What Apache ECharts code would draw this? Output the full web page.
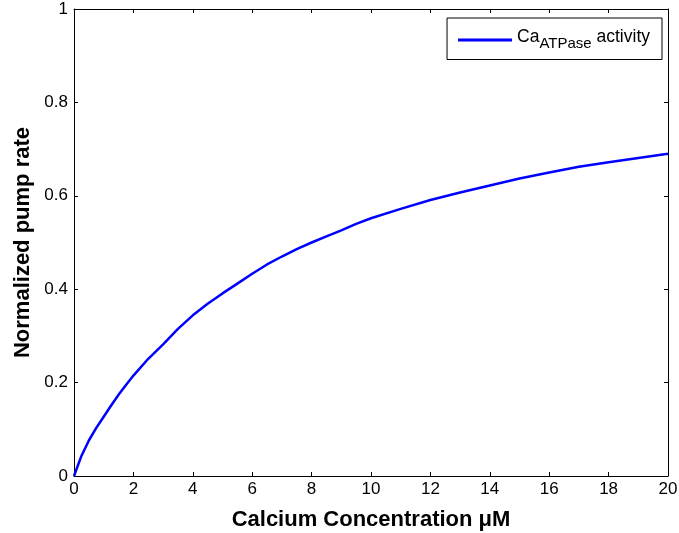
<!DOCTYPE html>
<html>
<head>
<meta charset="utf-8">
<script src="https://cdn.jsdelivr.net/npm/echarts@6/dist/echarts.min.js"></script>
<style>
  html, body { margin: 0; padding: 0; background: #fff; }
  #chart { width: 679px; height: 533px; }
</style>
</head>
<body>
<div id="chart"></div>
<script>
// calcium concentration (uM) and normalized pump rate
const calcium = [0, 0.25, 0.5, 0.75, 1, 1.25, 1.5, 1.75, 2, 2.5, 3, 3.5, 4, 4.5, 5, 5.5, 6, 6.5, 7, 7.5, 8, 8.5, 9, 9.5, 10,
  11, 12, 13, 14, 15, 16, 17, 18, 19, 20]
const pumpRate = [0, 0.043, 0.076, 0.103, 0.127, 0.151, 0.174, 0.195, 0.215, 0.251, 0.282, 0.315, 0.344, 0.369, 0.391, 0.412, 0.433, 0.453, 0.47, 0.486, 0.5, 0.513, 0.526, 0.54, 0.552,
  0.572, 0.591, 0.607, 0.622, 0.637, 0.65, 0.662, 0.672, 0.681, 0.69]
const seriesName = 'CaATPase activity'

const font = 'Liberation Sans, Arial, sans-serif'
const chart = echarts.init(document.getElementById('chart'))

// top / right axes only draw the box and the inner ticks, like the original
const frameAxis = {
  type: 'value',
  min: 0,
  axisLine: { show: true, onZero: false, lineStyle: { color: '#000', width: 1 } },
  axisTick: { show: true, inside: true, length: 4, lineStyle: { color: '#000' } },
  axisLabel: { show: false },
  splitLine: { show: false }
}

chart.setOption({
  animation: false,
  backgroundColor: '#fff',
  grid: { left: 74, right: 11, top: 9, bottom: 57, outerBoundsMode: 'none' },
  legend: {
    right: 17,
    top: 18,
    padding: [10, 12, 8, 11],
    borderColor: '#000',
    borderWidth: 1,
    itemWidth: 54,
    itemHeight: 3,
    icon: 'rect',
    data: [seriesName],
    formatter: () => '{n|Ca}{s|ATPase}{n| activity}',
    textStyle: {
      rich: {
        n: { fontFamily: font, fontSize: 17.5, color: '#000', padding: [0, 0, 6, 0] },
        s: { fontFamily: font, fontSize: 15, color: '#000', padding: [8, 0, 0, 0] }
      }
    }
  },
  xAxis: [
    {
      type: 'value',
      min: 0,
      max: 20,
      interval: 2,
      name: 'Calcium Concentration \u03bcM',
      nameLocation: 'middle',
      nameGap: 33,
      nameTextStyle: { fontFamily: font, fontSize: 22, fontWeight: 'bold', color: '#000' },
      axisLine: { show: true, onZero: false, lineStyle: { color: '#000', width: 1 } },
      axisTick: { show: true, inside: true, length: 4, lineStyle: { color: '#000' } },
      axisLabel: { fontFamily: font, fontSize: 17, color: '#000', margin: 5 },
      splitLine: { show: false }
    },
    Object.assign({}, frameAxis, { position: 'top', max: 20, interval: 2 })
  ],
  yAxis: [
    {
      type: 'value',
      min: 0,
      max: 1,
      interval: 0.2,
      name: 'Normalized pump rate',
      nameLocation: 'middle',
      nameGap: 36,
      nameTextStyle: { fontFamily: font, fontSize: 22, fontWeight: 'bold', color: '#000' },
      axisLine: { show: true, onZero: false, lineStyle: { color: '#000', width: 1 } },
      axisTick: { show: true, inside: true, length: 4, lineStyle: { color: '#000' } },
      axisLabel: { fontFamily: font, fontSize: 17, color: '#000', margin: 6 },
      splitLine: { show: false }
    },
    Object.assign({}, frameAxis, { position: 'right', max: 1, interval: 0.2 })
  ],
  series: [
    {
      name: seriesName,
      type: 'line',
      xAxisIndex: 0,
      yAxisIndex: 0,
      showSymbol: false,
      smooth: false,
      color: '#0000ff',
      lineStyle: { color: '#0000ff', width: 2.5 },
      data: calcium.map((x, i) => [x, pumpRate[i]])
    }
  ]
})
</script>
</body>
</html>
